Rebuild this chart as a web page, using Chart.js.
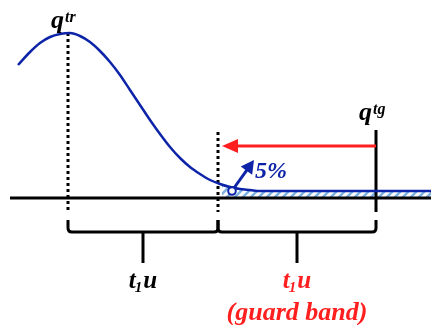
<!DOCTYPE html>
<html><head><meta charset="utf-8">
<script src="https://cdn.jsdelivr.net/npm/chart.js@4/dist/chart.umd.min.js"></script>
<style>html,body{margin:0;padding:0;background:#fff;}canvas{display:block;}</style>
</head><body>
<canvas id="c" width="431" height="325"></canvas>
<script>
// Curve (time offset, level above axis)
const curveX = [18,30,40,50,60,70,80,90,100,110,120,130,140,150,160,170,180,190,200,210,220,230,240,250,260,300,350,400,431];
const curveY = [133,146,155,161,164,165,162,156,147,136,123,108,93,78,64,51,40,31,24,18,14,11,9,8,7,7,7,7,7];
// Guard-band tail (hatched region)
const bandX = [222,230,240,250,260,300,350,400,431];
const bandY = [13,11,9,8,7,7,7,7,7];
// Key positions
const markerTr = 68, markerGuard = 218, markerTg = 376;
const peakLevel = 165;
const fivePctPoint = {x: 232, y: 7};
const labels = {qtr:"q", qtrSup:"tr", qtg:"q", qtgSup:"tg", guard:"(guard band)", pct:"5%"};

const BLUE = '#0d24a8', RED = '#ff1f1f', LIGHT = '#7fb2e0';

function hatch(){
  const p = document.createElement('canvas'); p.width = 8; p.height = 8;
  const g = p.getContext('2d');
  g.fillStyle = '#fff'; g.fillRect(0,0,8,8);
  g.strokeStyle = LIGHT; g.lineWidth = 2.5;
  g.beginPath(); g.moveTo(-2,10); g.lineTo(10,-2); g.moveTo(-6,6); g.lineTo(6,-6); g.moveTo(2,14); g.lineTo(14,2); g.stroke();
  return g.createPattern(p,'repeat');
}

const xy = (xs, ys) => xs.map((x,i)=>({x, y: ys[i]}));

const deco = {
  id:'deco',
  afterDatasetsDraw(chart){
    const {ctx, scales:{x, y}} = chart;
    const X = v => x.getPixelForValue(v), Y = v => y.getPixelForValue(v);
    ctx.save();
    // brackets
    ctx.strokeStyle = '#000'; ctx.lineWidth = 3; ctx.lineCap='butt';
    const brace = (a,b) => {
      const xa = X(a), xb = X(b), top = Y(-22), mid = Y(-34), tip = Y(-65);
      const c = (xa+xb)/2;
      ctx.beginPath();
      ctx.moveTo(xa, top); ctx.lineTo(xa, mid-4); ctx.quadraticCurveTo(xa, mid, xa+4, mid);
      ctx.lineTo(xb-4, mid); ctx.quadraticCurveTo(xb, mid, xb, mid-4); ctx.lineTo(xb, top);
      ctx.stroke();
      ctx.beginPath(); ctx.moveTo(c, mid); ctx.lineTo(c, tip); ctx.stroke();
    };
    brace(markerTr, markerGuard);
    brace(markerGuard, markerTg);
    // red arrow
    const ay = Y(52);
    ctx.strokeStyle = RED; ctx.fillStyle = RED; ctx.lineWidth = 3;
    ctx.beginPath(); ctx.moveTo(X(markerTg), ay); ctx.lineTo(X(markerGuard+16), ay); ctx.stroke();
    ctx.beginPath(); ctx.moveTo(X(markerGuard+4), ay); ctx.lineTo(X(markerGuard+20), ay-7); ctx.lineTo(X(markerGuard+20), ay+7); ctx.closePath(); ctx.fill();
    // blue arrow
    const sx = X(fivePctPoint.x)+2, sy = Y(fivePctPoint.y)-3, ex = X(254), ey = Y(38);
    ctx.strokeStyle = BLUE; ctx.fillStyle = BLUE; ctx.lineWidth = 3;
    const ang = Math.atan2(ey-sy, ex-sx);
    ctx.beginPath(); ctx.moveTo(sx, sy); ctx.lineTo(ex - 8*Math.cos(ang), ey - 8*Math.sin(ang)); ctx.stroke();
    ctx.beginPath(); ctx.moveTo(ex, ey);
    ctx.lineTo(ex - 13*Math.cos(ang) + 7*Math.sin(ang), ey - 13*Math.sin(ang) - 7*Math.cos(ang));
    ctx.lineTo(ex - 13*Math.cos(ang) - 7*Math.sin(ang), ey - 13*Math.sin(ang) + 7*Math.cos(ang));
    ctx.closePath(); ctx.fill();
    // circle on top
    ctx.fillStyle = '#fff'; ctx.strokeStyle = BLUE; ctx.lineWidth = 2;
    ctx.beginPath(); ctx.arc(X(fivePctPoint.x), Y(fivePctPoint.y), 3.8, 0, Math.PI*2); ctx.fill(); ctx.stroke();
    // texts
    const F = (s) => 'italic bold ' + s + 'px "Liberation Serif", "DejaVu Serif", serif';
    ctx.textBaseline = 'alphabetic'; ctx.textAlign = 'left';
    ctx.fillStyle = '#000';
    ctx.font = F(26); ctx.fillText(labels.qtr, X(51), Y(170));
    ctx.font = F(16); ctx.fillText(labels.qtrSup, X(65), Y(176));
    ctx.font = F(26); ctx.fillText(labels.qtg, X(359), Y(78));
    ctx.font = F(16); ctx.fillText(labels.qtgSup, X(373), Y(84));
    const t1u = (cx, color) => {
      ctx.fillStyle = color;
      ctx.font = F(25); const wt = ctx.measureText('t').width;
      ctx.font = F(15); const w1 = ctx.measureText('1').width;
      ctx.font = F(25); const wu = ctx.measureText('u').width;
      let x0 = X(cx) - (wt + w1 + wu)/2;
      ctx.font = F(25); ctx.fillText('t', x0, Y(-90)); x0 += wt;
      ctx.font = F(15); ctx.fillText('1', x0-1, Y(-94)); x0 += w1;
      ctx.font = F(25); ctx.fillText('u', x0, Y(-90));
    };
    t1u((markerTr+markerGuard)/2, '#000');
    t1u((markerGuard+markerTg)/2, RED);
    ctx.fillStyle = RED; ctx.font = F(26); ctx.textAlign='center';
    ctx.fillText(labels.guard, X((markerGuard+markerTg)/2), Y(-122));
    ctx.fillStyle = BLUE; ctx.font = F(24); ctx.textAlign='left';
    ctx.fillText(labels.pct, X(255), Y(20));
    ctx.restore();
  }
};

new Chart(document.getElementById('c'), {
  type:'line',
  data:{datasets:[
    {data: xy(bandX, bandY), fill:'origin', backgroundColor: hatch(), borderWidth:0, pointRadius:0, cubicInterpolationMode:'monotone', order:5},
    {data: [{x:10,y:0},{x:431,y:0}], borderColor:'#000', borderWidth:3, pointRadius:0, order:4},
    {data: xy(curveX, curveY), borderColor: BLUE, borderWidth:2.5, pointRadius:0, cubicInterpolationMode:'monotone', fill:false, order:1},
    {data: [{x:markerTr,y:peakLevel},{x:markerTr,y:-14}], borderColor:'#000', borderWidth:3, borderDash:[3,3], pointRadius:0, order:3},
    {data: [{x:markerGuard,y:66},{x:markerGuard,y:-14}], borderColor:'#000', borderWidth:3, borderDash:[3,3], pointRadius:0, order:3},
    {data: [{x:markerTg,y:68},{x:markerTg,y:-14}], borderColor:'#000', borderWidth:3, pointRadius:0, order:3}
  ]},
  options:{
    responsive:false, animation:false,
    layout:{padding:0},
    plugins:{legend:{display:false}, tooltip:{enabled:false}},
    scales:{
      x:{type:'linear', min:0, max:431, display:false},
      y:{type:'linear', min:-127, max:198, display:false}
    }
  },
  plugins:[deco]
});
</script>
</body></html>
